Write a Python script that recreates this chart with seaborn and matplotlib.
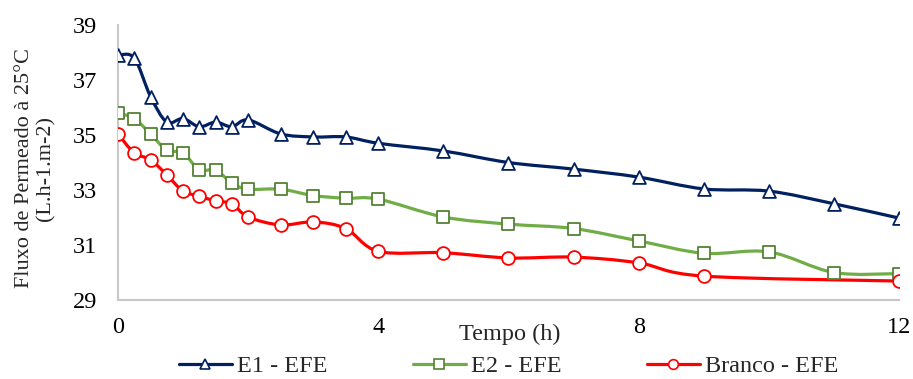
import numpy as np
import pandas as pd
import seaborn as sns
import matplotlib
matplotlib.use("Agg")
import matplotlib.pyplot as plt
from matplotlib.path import Path
from matplotlib.patches import PathPatch
from matplotlib.lines import Line2D

# ---- data ----
tempo = [0, 0.25, 0.5, 0.75, 1, 1.25, 1.5, 1.75, 2, 2.5, 3, 3.5, 4, 5, 6, 7, 8, 9, 10, 11, 12]
e1 = [37.9, 37.8, 36.4, 35.47, 35.6, 35.3, 35.47, 35.3, 35.55, 35.04, 34.93, 34.93, 34.7,
      34.42, 34.0, 33.76, 33.47, 33.04, 32.96, 32.5, 31.98]
e2 = [35.8, 35.6, 35.04, 34.45, 34.35, 33.73, 33.73, 33.25, 33.03, 33.03, 32.8, 32.7, 32.67,
      32.02, 31.76, 31.6, 31.15, 30.7, 30.75, 30.0, 29.96]
branco = [35.04, 34.35, 34.1, 33.55, 32.96, 32.78, 32.6, 32.5, 32.02, 31.73, 31.84, 31.6, 30.77,
          30.72, 30.53, 30.56, 30.35, 29.87, np.nan, np.nan, 29.69]
series_names = ["E1 - EFE", "E2 - EFE", "Branco - EFE"]
x_ticks = [0, 4, 8, 12]
y_ticks = [29, 31, 33, 35, 37, 39]

df = pd.DataFrame({"Tempo": tempo, series_names[0]: e1, series_names[1]: e2, series_names[2]: branco})

sns.set_theme(style="white")
plt.rcParams["font.family"] = ["Liberation Serif", "DejaVu Serif"]

fig = plt.figure(figsize=(9.13, 3.79), dpi=100)
ax = fig.add_axes([0.1292, 0.2084, 0.8555, 0.7256])

styles = [
    dict(color="#002060", marker="^", mec="#002060"),
    dict(color="#70AD47", marker="s", mec="#548235"),
    dict(color="#FF0000", marker="o", mec="#FF0000"),
]


def smooth_path(x, y):
    pts = np.column_stack([x, y])
    n = len(pts)
    verts = [pts[0]]
    codes = [Path.MOVETO]
    for i in range(n - 1):
        p0 = pts[i - 1] if i > 0 else pts[i]
        p1 = pts[i]
        p2 = pts[i + 1]
        p3 = pts[i + 2] if i + 2 < n else pts[i + 1]
        c1 = p1 + (p2 - p0) / 6.0
        c2 = p2 - (p3 - p1) / 6.0
        verts += [c1, c2, p2]
        codes += [Path.CURVE4] * 3
    return Path(verts, codes)


handles = []
for name, st in zip(series_names, styles):
    sub = df[["Tempo", name]].dropna()
    path = smooth_path(sub["Tempo"].values, sub[name].values)
    ax.add_patch(PathPatch(path, facecolor="none", edgecolor=st["color"], lw=2.3,
                           zorder=2, capstyle="round", joinstyle="round"))
    sns.scatterplot(data=sub, x="Tempo", y=name, marker=st["marker"], s=85,
                    facecolor="white", edgecolor=st["mec"], linewidth=1.3, ax=ax, zorder=3)
    handles.append(Line2D([], [], color=st["color"], lw=2.3, marker=st["marker"],
                          markersize=7, markerfacecolor="white", markeredgecolor=st["mec"],
                          markeredgewidth=1.2))

ax.set_xlim(0, 12)
ax.set_ylim(29, 39)
ax.set_xticks(x_ticks)
ax.set_yticks(y_ticks)
ax.tick_params(axis="both", length=0, labelsize=17.5, colors="black")
ax.tick_params(axis="x", pad=12)
ax.tick_params(axis="y", pad=15)

for s in ["top", "right"]:
    ax.spines[s].set_visible(False)
for s in ["left", "bottom"]:
    ax.spines[s].set_color("#C8C8C8")
    ax.spines[s].set_linewidth(1.5)

ax.set_xlabel("Tempo (h)", fontsize=17.5)
ax.xaxis.set_label_coords((510 - 118) / 781, -0.085)
ax.set_ylabel("Fluxo de Permeado à 25°C\n(L.h-1.m-2)", fontsize=16, linespacing=1.15)
ax.yaxis.set_label_coords(-0.08, 0.48)

fig.legend(handles, series_names, loc="center", bbox_to_anchor=(0.557, 0.034),
           ncol=3, frameon=False, fontsize=17.5, handlelength=2.2, handletextpad=0.2,
           columnspacing=3.5, borderpad=0, borderaxespad=0)

fig.savefig("out.png", dpi=100)
